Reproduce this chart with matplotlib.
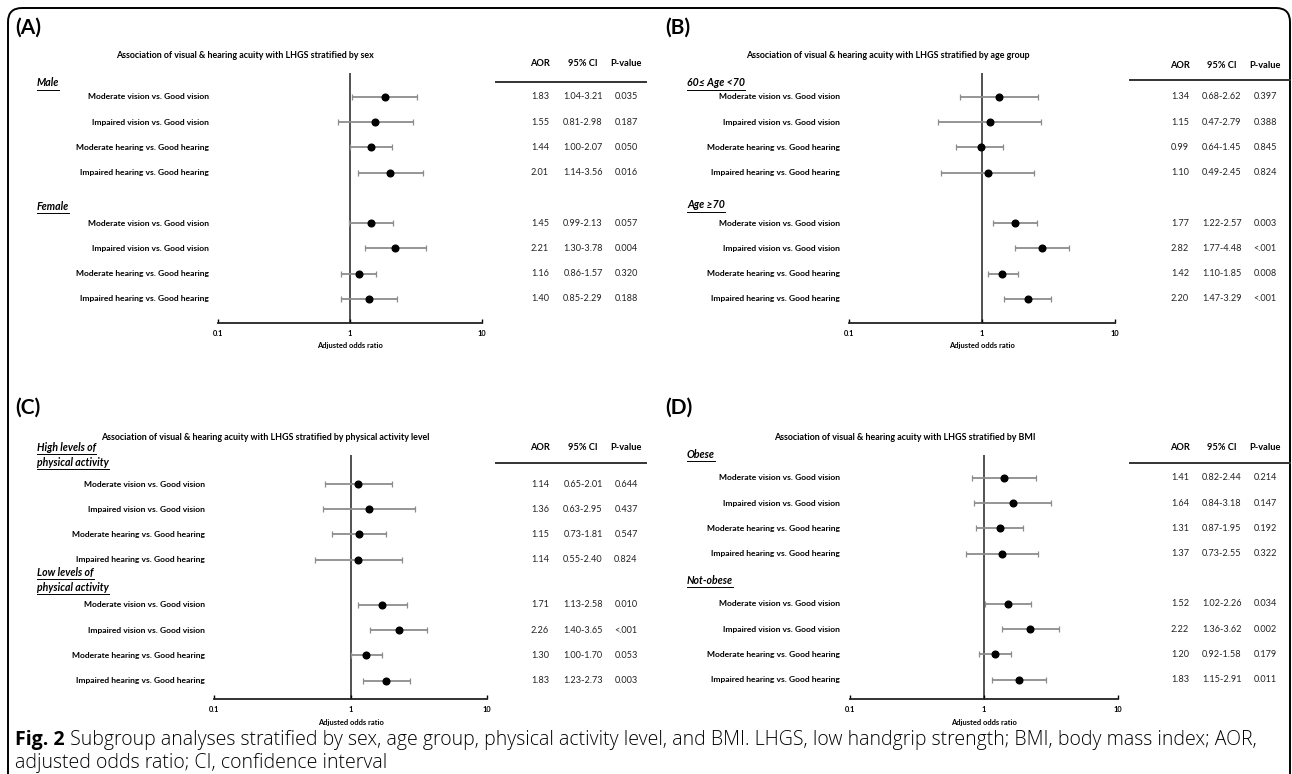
import matplotlib
matplotlib.use("Agg")
import matplotlib.pyplot as plt
import matplotlib.transforms as mtransforms
from matplotlib.patches import FancyBboxPatch

W, H = 1292, 774
FONT = ["Lato", "DejaVu Sans"]
CAP_FONT = ["Open Sans", "DejaVu Sans"]
plt.rcParams["font.family"] = FONT

comparisons = ["Moderate vision vs. Good vision",
               "Impaired vision vs. Good vision",
               "Moderate hearing vs. Good hearing",
               "Impaired hearing vs. Good hearing"]

# (A) sex
sex_groups = ["Male", "Female"]
sex_aor = [1.83, 1.55, 1.44, 2.01, 1.45, 2.21, 1.16, 1.40]
sex_lo = [1.04, 0.81, 1.00, 1.14, 0.99, 1.30, 0.86, 0.85]
sex_hi = [3.21, 2.98, 2.07, 3.56, 2.13, 3.78, 1.57, 2.29]
sex_p = ["0.035", "0.187", "0.050", "0.016", "0.057", "0.004", "0.320", "0.188"]

# (B) age group
age_groups = ["60\u2264 Age <70", "Age \u226570"]
age_aor = [1.34, 1.15, 0.99, 1.10, 1.77, 2.82, 1.42, 2.20]
age_lo = [0.68, 0.47, 0.64, 0.49, 1.22, 1.77, 1.10, 1.47]
age_hi = [2.62, 2.79, 1.45, 2.45, 2.57, 4.48, 1.85, 3.29]
age_p = ["0.397", "0.388", "0.845", "0.824", "0.003", "<.001", "0.008", "<.001"]

# (C) physical activity
pa_groups = ["High levels of\nphysical activity", "Low levels of\nphysical activity"]
pa_aor = [1.14, 1.36, 1.15, 1.14, 1.71, 2.26, 1.30, 1.83]
pa_lo = [0.65, 0.63, 0.73, 0.55, 1.13, 1.40, 1.00, 1.23]
pa_hi = [2.01, 2.95, 1.81, 2.40, 2.58, 3.65, 1.70, 2.73]
pa_p = ["0.644", "0.437", "0.547", "0.824", "0.010", "<.001", "0.053", "0.003"]

# (D) BMI
bmi_groups = ["Obese", "Not-obese"]
bmi_aor = [1.41, 1.64, 1.31, 1.37, 1.52, 2.22, 1.20, 1.83]
bmi_lo = [0.82, 0.84, 0.87, 0.73, 1.02, 1.36, 0.92, 1.15]
bmi_hi = [2.44, 3.18, 1.95, 2.55, 2.26, 3.62, 1.58, 2.91]
bmi_p = ["0.214", "0.147", "0.192", "0.322", "0.034", "0.002", "0.179", "0.011"]

caption_bold = "Fig. 2"
caption_line1 = (" Subgroup analyses stratified by sex, age group, physical activity level, "
                 "and BMI. LHGS, low handgrip strength; BMI, body mass index; AOR,")
caption_line2 = "adjusted odds ratio; CI, confidence interval"

panels = [
    dict(tag="(A)", title="Association of visual & hearing acuity with LHGS stratified by sex",
         groups=sex_groups, aor=sex_aor, lo=sex_lo, hi=sex_hi, p=sex_p,
         left=0, ax_x=(218, 482), ax_y=(73, 323), row0=97, step=25.25,
         pos=[0, 1, 2, 3, 5, 6, 7, 8], grp_y=[83, 206], lab_x=209,
         cols=(540, 583, 626), head_y=63, line=(496, 646, 82), title_x=245, title_y=55, tag_y=28),
    dict(tag="(B)", title="Association of visual & hearing acuity with LHGS stratified by age group",
         groups=age_groups, aor=age_aor, lo=age_lo, hi=age_hi, p=age_p,
         left=650, ax_x=(849, 1115), ax_y=(73, 323), row0=97, step=25.25,
         pos=[0, 1, 2, 3, 5, 6, 7, 8], grp_y=[83, 205], lab_x=840,
         cols=(1180, 1222, 1265), head_y=65, line=(1130, 1290, 80), title_x=888, title_y=55, tag_y=28),
    dict(tag="(C)", title="Association of visual & hearing acuity with LHGS stratified by physical activity level",
         groups=pa_groups, aor=pa_aor, lo=pa_lo, hi=pa_hi, p=pa_p,
         left=0, ax_x=(214, 487), ax_y=(455, 699), row0=484, step=25.2,
         pos=[0, 1, 2, 3, 4.8, 5.8, 6.8, 7.8], grp_y=[455, 580], lab_x=205,
         cols=(540, 583, 626), head_y=447, line=(496, 646, 463), title_x=265, title_y=437, tag_y=408),
    dict(tag="(D)", title="Association of visual & hearing acuity with LHGS stratified by BMI",
         groups=bmi_groups, aor=bmi_aor, lo=bmi_lo, hi=bmi_hi, p=bmi_p,
         left=650, ax_x=(850, 1118), ax_y=(455, 699), row0=478, step=25.2,
         pos=[0, 1, 2, 3, 5, 6, 7, 8], grp_y=[454, 580], lab_x=840,
         cols=(1180, 1222, 1265), head_y=447, line=(1130, 1290, 463), title_x=905, title_y=437, tag_y=408),
]

fig = plt.figure(figsize=(W / 100, H / 100), dpi=100)
over = fig.add_axes([0, 0, 1, 1])
over.set_xlim(0, W)
over.set_ylim(H, 0)
over.axis("off")

# outer rounded frame
frame = FancyBboxPatch((8, 8), 1282, 790, boxstyle="round,pad=0,rounding_size=14",
                       fc="none", ec="black", lw=1.4)
over.add_patch(frame)

for pn in panels:
    x0, x1 = pn["ax_x"]
    ytop, ybot = pn["ax_y"]
    ax = fig.add_axes([x0 / W, 1 - ybot / H, (x1 - x0) / W, (ybot - ytop) / H])
    ax.patch.set_alpha(0)
    ax.set_xscale("log")
    ax.set_xlim(0.1, 10)
    ax.set_ylim((ybot - pn["row0"]) / pn["step"], (ytop - pn["row0"]) / pn["step"])
    for s in ["top", "right", "left"]:
        ax.spines[s].set_visible(False)
    ax.spines["bottom"].set_linewidth(1.3)
    ax.spines["bottom"].set_color("#222222")
    ax.set_yticks([])
    ax.set_xticks([0.1, 1, 10])
    ax.set_xticklabels(["0.1", "1", "10"])
    ax.minorticks_off()
    ax.tick_params(axis="x", direction="in", length=3, width=1, pad=5, labelsize=5.4)
    for t in ax.get_xticklabels():
        t.set_fontweight("bold")
    ax.set_xlabel("Adjusted odds ratio", fontsize=5.4, fontweight="bold", labelpad=4)
    ax.axvline(1, color="#333333", lw=1.2, zorder=1)

    aor, lo, hi = pn["aor"], pn["lo"], pn["hi"]
    xerr = [[a - l for a, l in zip(aor, lo)], [h - a for a, h in zip(aor, hi)]]
    ax.errorbar(aor, pn["pos"], xerr=xerr, fmt="o", color="black", ms=4.8,
                ecolor="#8c8c8c", elinewidth=1.3, capsize=2.3, capthick=0.9, zorder=3)

    tr = mtransforms.blended_transform_factory(over.transData, ax.transData)
    cx_a, cx_c, cx_p = pn["cols"]
    for i, yv in enumerate(pn["pos"]):
        fig.text(pn["lab_x"], yv, comparisons[i % 4], transform=tr, ha="right", va="center",
                 fontsize=6.1, fontweight="bold")
        fig.text(cx_a, yv, f"{aor[i]:.2f}", transform=tr, ha="center", va="center",
                 fontsize=6.6, color="#222222")
        fig.text(cx_c, yv, f"{lo[i]:.2f}-{hi[i]:.2f}", transform=tr, ha="center", va="center",
                 fontsize=6.6, color="#222222")
        fig.text(cx_p, yv, pn["p"][i], transform=tr, ha="center", va="center",
                 fontsize=6.6, color="#222222")

    # table header
    for cx, name in zip(pn["cols"], ["AOR", "95% CI", "P-value"]):
        over.text(cx, pn["head_y"], name, ha="center", va="center", fontsize=6.7, fontweight="bold")
    lx0, lx1, ly = pn["line"]
    over.plot([lx0, lx1], [ly, ly], color="#333333", lw=1.4)

    # panel tag and title
    over.text(pn["left"] + 15, pn["tag_y"], pn["tag"], ha="left", va="center",
              fontsize=15, fontweight="bold")
    over.text(pn["title_x"], pn["title_y"], pn["title"], ha="center", va="center",
              fontsize=6.4, fontweight="bold")

    # subgroup headings (bold italic, underlined)
    for g, gy in zip(pn["groups"], pn["grp_y"]):
        lines = g.split("\n")
        for k, ln in enumerate(lines):
            yy = gy - 7.5 * (len(lines) - 1) + 15 * k
            t = over.text(pn["left"] + 37, yy, ln, ha="left", va="center", fontsize=7.6,
                          fontweight="bold", fontstyle="italic")
            fig.canvas.draw()
            bb = t.get_window_extent().transformed(over.transData.inverted())
            over.plot([bb.x0, bb.x1], [bb.y0 + 1, bb.y0 + 1], color="black", lw=0.7)

# caption, sized so the first line runs to the same right edge as the reference
cap_fs = 12
tb = over.text(15, 740, caption_bold, ha="left", va="center", fontsize=cap_fs,
               fontweight="bold", family=CAP_FONT)
t1 = over.text(15, 740, caption_line1, ha="left", va="center", fontsize=cap_fs,
               fontweight="light", family=CAP_FONT)
fig.canvas.draw()
w_total = (tb.get_window_extent().width + t1.get_window_extent().width)
cap_fs = cap_fs * (1257 - 15) / w_total
tb.set_fontsize(cap_fs)
t1.set_fontsize(cap_fs)
fig.canvas.draw()
bb = tb.get_window_extent().transformed(over.transData.inverted())
t1.set_x(bb.x1)
over.text(15, 763, caption_line2, ha="left", va="center", fontsize=cap_fs,
          fontweight="light", family=CAP_FONT)

fig.savefig("out.png", dpi=100)
